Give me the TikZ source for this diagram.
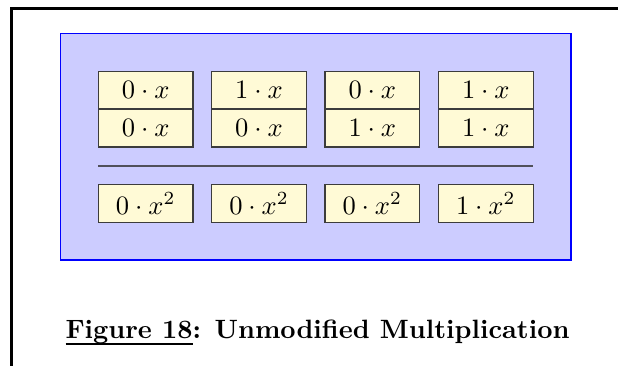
\documentclass[tikz,border=0pt]{standalone}
\usepackage{xcolor}
\definecolor{panelblue}{RGB}{204,204,255}
\definecolor{cellfill}{RGB}{255,250,214}
\definecolor{celldraw}{RGB}{60,60,60}
\definecolor{rulegray}{RGB}{80,80,90}
\newcommand\myul[1]{\setbox0=\hbox{#1}\rlap{\rule[-2.6pt]{\wd0}{0.8pt}}\box0}
\tikzset{
  cell/.style={draw=celldraw, fill=cellfill, line width=0.5pt, inner sep=0pt,
    minimum width=35.7pt, minimum height=14.3pt, font=\normalsize},
  frameline/.style={line width=1.05pt, black},
}
\begin{document}
\begin{tikzpicture}[x=0.377pt, y=-0.377pt]
\useasboundingbox (0,0) rectangle (618,366);
% frame
\coordinate (ftl) at (11.2,8.2);
\coordinate (ftr) at (618,8.2);
\coordinate (fbl) at (11.2,366);
\draw[frameline] (ftr) -- (ftl) -- (fbl);
% blue panel
\node[draw=blue, fill=panelblue, line width=0.5pt, inner sep=0pt,
  minimum width={510.5*0.377pt}, minimum height={226.3*0.377pt}] (panel) at (315.75,146.85) {};
% top cells
\foreach \i/\cx/\a/\b in {1/145.7/0/0, 2/259/1/0, 3/372.3/0/1, 4/485.8/1/1}{
  \node[cell] (t\i) at (\cx,90.2) {$\a\cdot x$};
  \node[cell] (u\i) at (\cx,128.1) {$\b\cdot x$};
  \node[cell] (b\i) at (\cx,203.6) {};
}
\node at (b1) {$0\cdot x^2$};
\node at (b2) {$0\cdot x^2$};
\node at (b3) {$0\cdot x^2$};
\node at (b4) {$1\cdot x^2$};
% separator
\coordinate (sl) at (98.3,165.7);
\coordinate (sr) at (533.3,165.7);
\draw[rulegray, line width=0.6pt] (sl) -- (sr);
% caption
\node[anchor=base west, inner sep=0pt] (cap) at (65,338) {\bfseries\myul{Figure 18}: Unmodified Multiplication};
\end{tikzpicture}
\end{document}
